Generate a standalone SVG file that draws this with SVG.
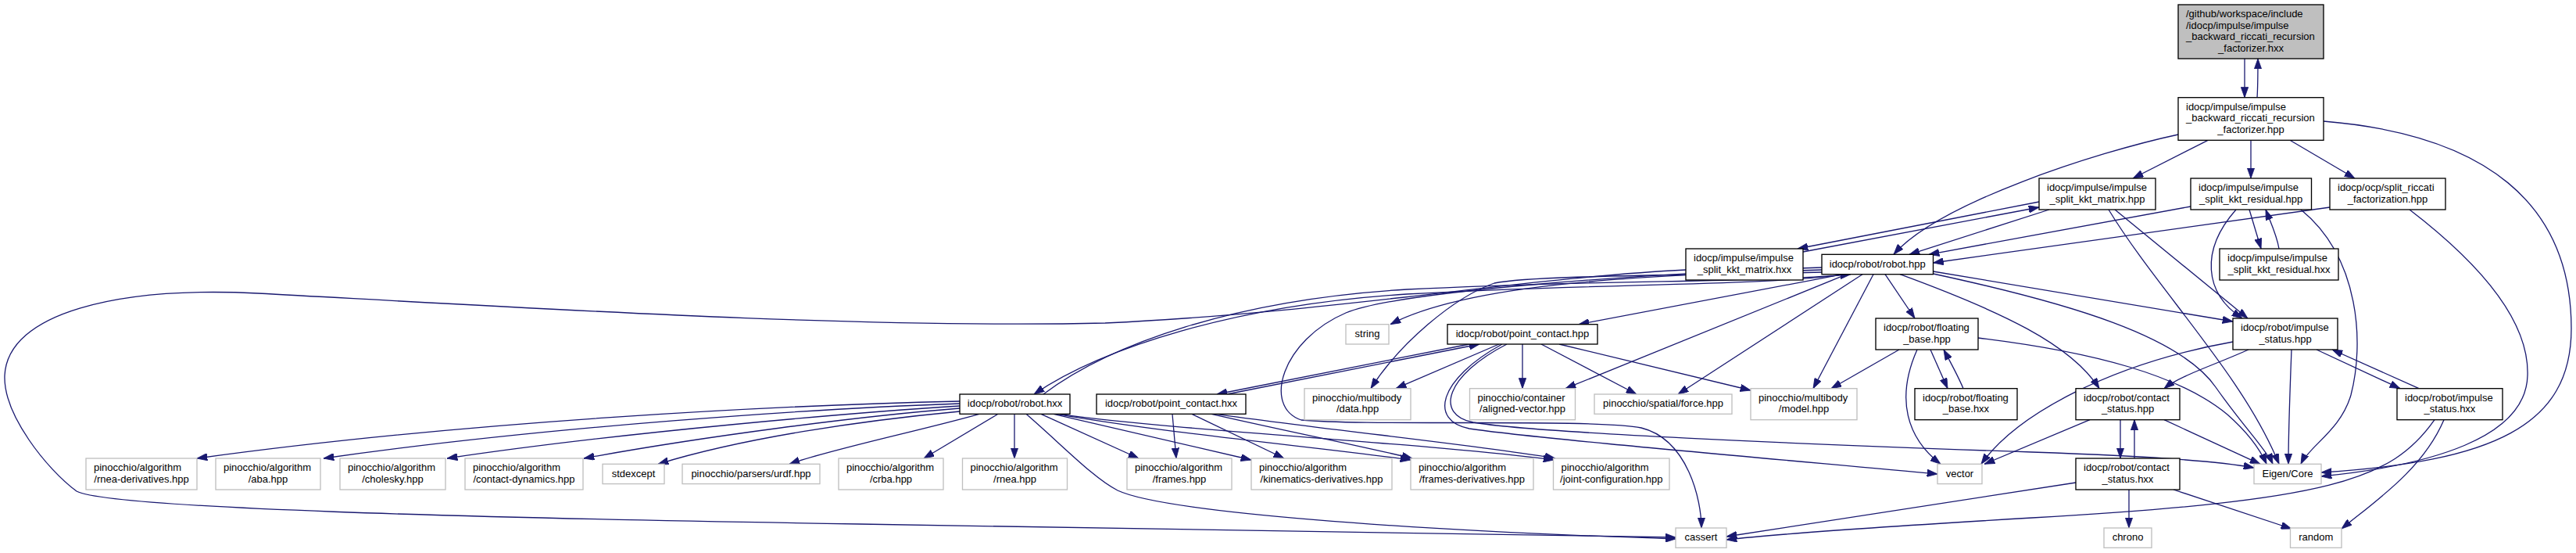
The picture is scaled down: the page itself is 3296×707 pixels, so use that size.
<svg xmlns="http://www.w3.org/2000/svg" width="3296" height="707" viewBox="0 0 3296 707">
<defs>
<marker id="a" viewBox="0 0 13.3 9.4" refX="13.3" refY="4.7" markerWidth="13.3" markerHeight="9.4" markerUnits="userSpaceOnUse" orient="auto"><path d="M0,0L13.3,4.7L0,9.4z" fill="#191970" stroke="#191970" stroke-width="0.8"/></marker>
</defs>
<style>
.e path{fill:none;stroke:#191970;stroke-width:1.3;marker-end:url(#a)}
.n rect{fill:#fff;stroke:#000;stroke-width:1.33}
.x rect{fill:#fff;stroke:#bfbfbf;stroke-width:1.33}
.t rect{fill:#bfbfbf;stroke:#000;stroke-width:1.33}
text{font-family:"Liberation Sans",Arial,sans-serif;font-size:13px;fill:#000}
.m{text-anchor:middle}
</style>
<rect width="3296" height="707" fill="#fff"/>
<g id="edges" class="e">
<path d="M2872,75 L2872,124.7"/>
<path d="M2888,124.7 C2889,110 2889,92 2889,75"/>
<path d="M2787,172 C2680,195 2480,260 2423,325.3"/>
<path d="M2825,179.3 L2729,228"/>
<path d="M2880,179.3 L2880,228"/>
<path d="M2930,179.3 L3013,228"/>
<path d="M2973,155 C3180,172 3290,260 3290,420 C3290,545 3190,590 2970,604"/>
<path d="M2622,268 L2443,325.3"/>
<path d="M2609,258 L2300,318"/>
<path d="M2307,322 L2609,265"/>
<path d="M2706,268 L2876,407"/>
<path d="M2698,268 C2760,370 2870,480 2916,593.3"/>
<path d="M2803,264 L2468,325.3"/>
<path d="M2878,268 L2893,318"/>
<path d="M2916,318 C2913,300 2905,284 2899,268"/>
<path d="M2861,268 C2815,320 2820,375 2869,407"/>
<path d="M2944,268 C3020,330 3025,440 3008,505 C2995,550 2955,570 2944,593.3"/>
<path d="M2981,265 L2473.5,336"/>
<path d="M3083,268 C3190,350 3236,420 3234,480 C3232,560 3110,595 2970,609"/>
<path d="M2412,350.7 L2450,407"/>
<path d="M2397,350.7 L2320,496.7"/>
<path d="M2383,350.7 L2147,504"/>
<path d="M2363,350.7 L2003,496.7"/>
<path d="M2358,350.7 L2020,414.7"/>
<path d="M1335,504 C1420,440 1580,383 1800,370 C2050,357 2250,362 2368,350.7"/>
<path d="M2362,350.7 C2250,366 2050,362 1800,376 C1580,390 1410,445 1323,504"/>
<path d="M2331,345 C2100,352 1880,362 1779,414.7"/>
<path d="M2331,348 C2150,352 1960,352 1912,362 C1860,380 1790,440 1754,496.7"/>
<path d="M2331,342 C2100,350 1790,372 1722,400 C1640,435 1615,520 1665,537 C1750,545 2040,535 2100,547 C2160,562 2177,640 2177,675"/>
<path d="M2431,350.7 C2560,398 2650,440 2686,496.7"/>
<path d="M2473.5,347 L2857,411"/>
<path d="M2473.5,350 C2650,388 2790,430 2835,495 C2870,545 2900,575 2908,593.3"/>
<path d="M2430,447 L2343,496.7"/>
<path d="M2470,447 L2492,496.7"/>
<path d="M2512,496.7 C2505,480 2495,462 2487,447"/>
<path d="M2453,447 C2425,510 2440,560 2483,593.3"/>
<path d="M2531,432 C2680,450 2790,480 2850,530 C2875,552 2892,575 2900,593.3"/>
<path d="M2857,437 C2700,465 2580,530 2535,593.3"/>
<path d="M2877,447 C2830,468 2790,480 2769,496.7"/>
<path d="M2932,447 C2930,500 2928,550 2928,593.3"/>
<path d="M2964,447 L3071,496.7"/>
<path d="M3095,496.7 L2984,447"/>
<path d="M2674,536.7 L2539,593.3"/>
<path d="M2769,536.7 L2892,593.3"/>
<path d="M2713,536.7 L2713,586"/>
<path d="M2731,586 L2731,536.7"/>
<path d="M2656,617 L2209,686"/>
<path d="M2724,626 L2724,675"/>
<path d="M2781,626 L2932,676"/>
<path d="M3115,536.7 C3060,615 2980,640 2600,662 C2400,674 2260,684 2209,690"/>
<path d="M3127,536.7 C3100,600 3040,640 2996,676"/>
<path d="M1880,440 L1557,504"/>
<path d="M1570,504 L1893,440"/>
<path d="M1918,440 L1786,496.7"/>
<path d="M1948,440 L1948,496.7"/>
<path d="M1972,440 L2094,504"/>
<path d="M1995,440 L2240,499"/>
<path d="M1928,440 C1850,480 1835,530 1885,540 C1960,553 2300,568 2600,578 C2750,583 2840,590 2884,598"/>
<path d="M1922,440 C1840,485 1828,538 1880,548 C1960,560 2250,585 2479,606"/>
<path d="M2157,345 C1950,355 1700,400 1414,413 C1100,420 700,395 330,375 C150,366 10,400 6,480 C4,530 60,600 98,628 C140,650 600,662 1100,670 C1600,678 2000,684 2144,687"/>
<path d="M1313,529.3 C1360,570 1400,612 1430,627 C1490,655 1800,678 2144,689"/>
<path d="M1228,513 C1000,518 600,538 252,586"/>
<path d="M1228,516 C1050,522 700,545 414,586"/>
<path d="M1228,519 C1100,527 800,552 572,586"/>
<path d="M1228,522 C1100,532 900,558 747,586"/>
<path d="M1228,526 C1100,538 950,560 842,593.3"/>
<path d="M1253,529.3 C1180,550 1060,575 1010,593.3"/>
<path d="M1277,529.3 L1182,586"/>
<path d="M1298,529.3 L1298,586"/>
<path d="M1332,529.3 L1457,586"/>
<path d="M1348,529.3 L1601,588"/>
<path d="M1352,529.3 C1500,555 1700,573 1805,588"/>
<path d="M1355,529.3 C1520,552 1820,566 1988,588"/>
<path d="M1500,529.3 L1505,586"/>
<path d="M1525,529.3 L1643,586"/>
<path d="M1550,529.3 C1650,552 1750,572 1807,586"/>
<path d="M1556,529.3 C1700,550 1900,570 1990,586"/>
</g>
<g id="nodes">
<g id="n0" class="t"><rect x="2787" y="6" width="186" height="69"/><text x="2797" y="22">/github/workspace/include</text><text x="2797" y="36.7">/idocp/impulse/impulse</text><text x="2797" y="51.3">_backward_riccati_recursion</text><text class="m" x="2880" y="66">_factorizer.hxx</text></g>
<g id="n1" class="n"><rect x="2787" y="124.7" width="186" height="54.6"/><text x="2797" y="140.7">idocp/impulse/impulse</text><text x="2797" y="155.4">_backward_riccati_recursion</text><text class="m" x="2880" y="170">_factorizer.hpp</text></g>
<g id="n2" class="n"><rect x="2609" y="228" width="149" height="40"/><text x="2619" y="244">idocp/impulse/impulse</text><text class="m" x="2683.5" y="258.7">_split_kkt_matrix.hpp</text></g>
<g id="n3" class="n"><rect x="2803" y="228" width="154.5" height="40"/><text x="2813" y="244">idocp/impulse/impulse</text><text class="m" x="2880.2" y="258.7">_split_kkt_residual.hpp</text></g>
<g id="n4" class="n"><rect x="2981" y="228" width="148" height="40"/><text x="2991" y="244">idocp/ocp/split_riccati</text><text class="m" x="3055" y="258.7">_factorization.hpp</text></g>
<g id="n5" class="n"><rect x="2157" y="318" width="150" height="40"/><text x="2167" y="334">idocp/impulse/impulse</text><text class="m" x="2232" y="348.7">_split_kkt_matrix.hxx</text></g>
<g id="n6" class="n"><rect x="2331" y="325.3" width="142.5" height="25.4"/><text class="m" x="2402.2" y="341.5">idocp/robot/robot.hpp</text></g>
<g id="n7" class="n"><rect x="2840" y="318" width="152" height="40"/><text x="2850" y="334">idocp/impulse/impulse</text><text class="m" x="2916" y="348.7">_split_kkt_residual.hxx</text></g>
<g id="n8" class="x"><rect x="1722" y="414.7" width="55" height="25.3"/><text class="m" x="1749.5" y="431">string</text></g>
<g id="n9" class="n"><rect x="1852" y="414.7" width="192" height="25.3"/><text class="m" x="1948" y="431">idocp/robot/point_contact.hpp</text></g>
<g id="n10" class="n"><rect x="2400" y="407" width="131" height="40"/><text x="2410" y="423">idocp/robot/floating</text><text class="m" x="2465.5" y="437.7">_base.hpp</text></g>
<g id="n11" class="n"><rect x="2857" y="407" width="134" height="40"/><text x="2867" y="423">idocp/robot/impulse</text><text class="m" x="2924" y="437.7">_status.hpp</text></g>
<g id="n12" class="n"><rect x="1228" y="504" width="141" height="25.3"/><text class="m" x="1298.5" y="520.3">idocp/robot/robot.hxx</text></g>
<g id="n13" class="n"><rect x="1403" y="504" width="191" height="25.3"/><text class="m" x="1498.5" y="520.3">idocp/robot/point_contact.hxx</text></g>
<g id="n14" class="x"><rect x="1669" y="496.7" width="136" height="40"/><text x="1679" y="512.7">pinocchio/multibody</text><text class="m" x="1737" y="527.4">/data.hpp</text></g>
<g id="n15" class="x"><rect x="1880.5" y="496.7" width="135" height="40"/><text x="1890.5" y="512.7">pinocchio/container</text><text class="m" x="1948" y="527.4">/aligned-vector.hpp</text></g>
<g id="n16" class="x"><rect x="2040" y="504" width="176" height="25.3"/><text class="m" x="2128" y="520.3">pinocchio/spatial/force.hpp</text></g>
<g id="n17" class="x"><rect x="2240" y="496.7" width="136" height="40"/><text x="2250" y="512.7">pinocchio/multibody</text><text class="m" x="2308" y="527.4">/model.hpp</text></g>
<g id="n18" class="n"><rect x="2450" y="496.7" width="131" height="40"/><text x="2460" y="512.7">idocp/robot/floating</text><text class="m" x="2515.5" y="527.4">_base.hxx</text></g>
<g id="n19" class="n"><rect x="2656" y="496.7" width="133" height="40"/><text x="2666" y="512.7">idocp/robot/contact</text><text class="m" x="2722.5" y="527.4">_status.hpp</text></g>
<g id="n20" class="n"><rect x="3067" y="496.7" width="135" height="40"/><text x="3077" y="512.7">idocp/robot/impulse</text><text class="m" x="3134.5" y="527.4">_status.hxx</text></g>
<g id="n21" class="x"><rect x="110" y="586" width="142" height="40"/><text x="120" y="602">pinocchio/algorithm</text><text class="m" x="181" y="616.7">/rnea-derivatives.hpp</text></g>
<g id="n22" class="x"><rect x="276" y="586" width="134" height="40"/><text x="286" y="602">pinocchio/algorithm</text><text class="m" x="343" y="616.7">/aba.hpp</text></g>
<g id="n23" class="x"><rect x="435" y="586" width="135" height="40"/><text x="445" y="602">pinocchio/algorithm</text><text class="m" x="502.5" y="616.7">/cholesky.hpp</text></g>
<g id="n24" class="x"><rect x="595" y="586" width="151" height="40"/><text x="605" y="602">pinocchio/algorithm</text><text class="m" x="670.5" y="616.7">/contact-dynamics.hpp</text></g>
<g id="n25" class="x"><rect x="771" y="593.3" width="79" height="25.3"/><text class="m" x="810.5" y="609.6">stdexcept</text></g>
<g id="n26" class="x"><rect x="873" y="593.3" width="176" height="25.3"/><text class="m" x="961" y="609.6">pinocchio/parsers/urdf.hpp</text></g>
<g id="n27" class="x"><rect x="1073" y="586" width="134" height="40"/><text x="1083" y="602">pinocchio/algorithm</text><text class="m" x="1140" y="616.7">/crba.hpp</text></g>
<g id="n28" class="x"><rect x="1231.5" y="586" width="134" height="40"/><text x="1241.5" y="602">pinocchio/algorithm</text><text class="m" x="1298.5" y="616.7">/rnea.hpp</text></g>
<g id="n29" class="x"><rect x="1442" y="586" width="134" height="40"/><text x="1452" y="602">pinocchio/algorithm</text><text class="m" x="1509" y="616.7">/frames.hpp</text></g>
<g id="n30" class="x"><rect x="1601" y="586" width="180" height="40"/><text x="1611" y="602">pinocchio/algorithm</text><text class="m" x="1691" y="616.7">/kinematics-derivatives.hpp</text></g>
<g id="n31" class="x"><rect x="1805" y="586" width="157" height="40"/><text x="1815" y="602">pinocchio/algorithm</text><text class="m" x="1883.5" y="616.7">/frames-derivatives.hpp</text></g>
<g id="n32" class="x"><rect x="1987.5" y="586" width="148.5" height="40"/><text x="1997.5" y="602">pinocchio/algorithm</text><text class="m" x="2061.8" y="616.7">/joint-configuration.hpp</text></g>
<g id="n33" class="x"><rect x="2479" y="593.3" width="57" height="25.3"/><text class="m" x="2507.5" y="609.6">vector</text></g>
<g id="n34" class="n"><rect x="2656" y="586" width="133" height="40"/><text x="2666" y="602">idocp/robot/contact</text><text class="m" x="2722.5" y="616.7">_status.hxx</text></g>
<g id="n35" class="x"><rect x="2884" y="593.3" width="86" height="25.3"/><text class="m" x="2927" y="609.6">Eigen/Core</text></g>
<g id="n36" class="x"><rect x="2144" y="675" width="65" height="25.3"/><text class="m" x="2176.5" y="691.3">cassert</text></g>
<g id="n37" class="x"><rect x="2692" y="675" width="61" height="25.3"/><text class="m" x="2722.5" y="691.3">chrono</text></g>
<g id="n38" class="x"><rect x="2930.5" y="675" width="65.5" height="25.3"/><text class="m" x="2963.2" y="691.3">random</text></g>
</g>
</svg>
